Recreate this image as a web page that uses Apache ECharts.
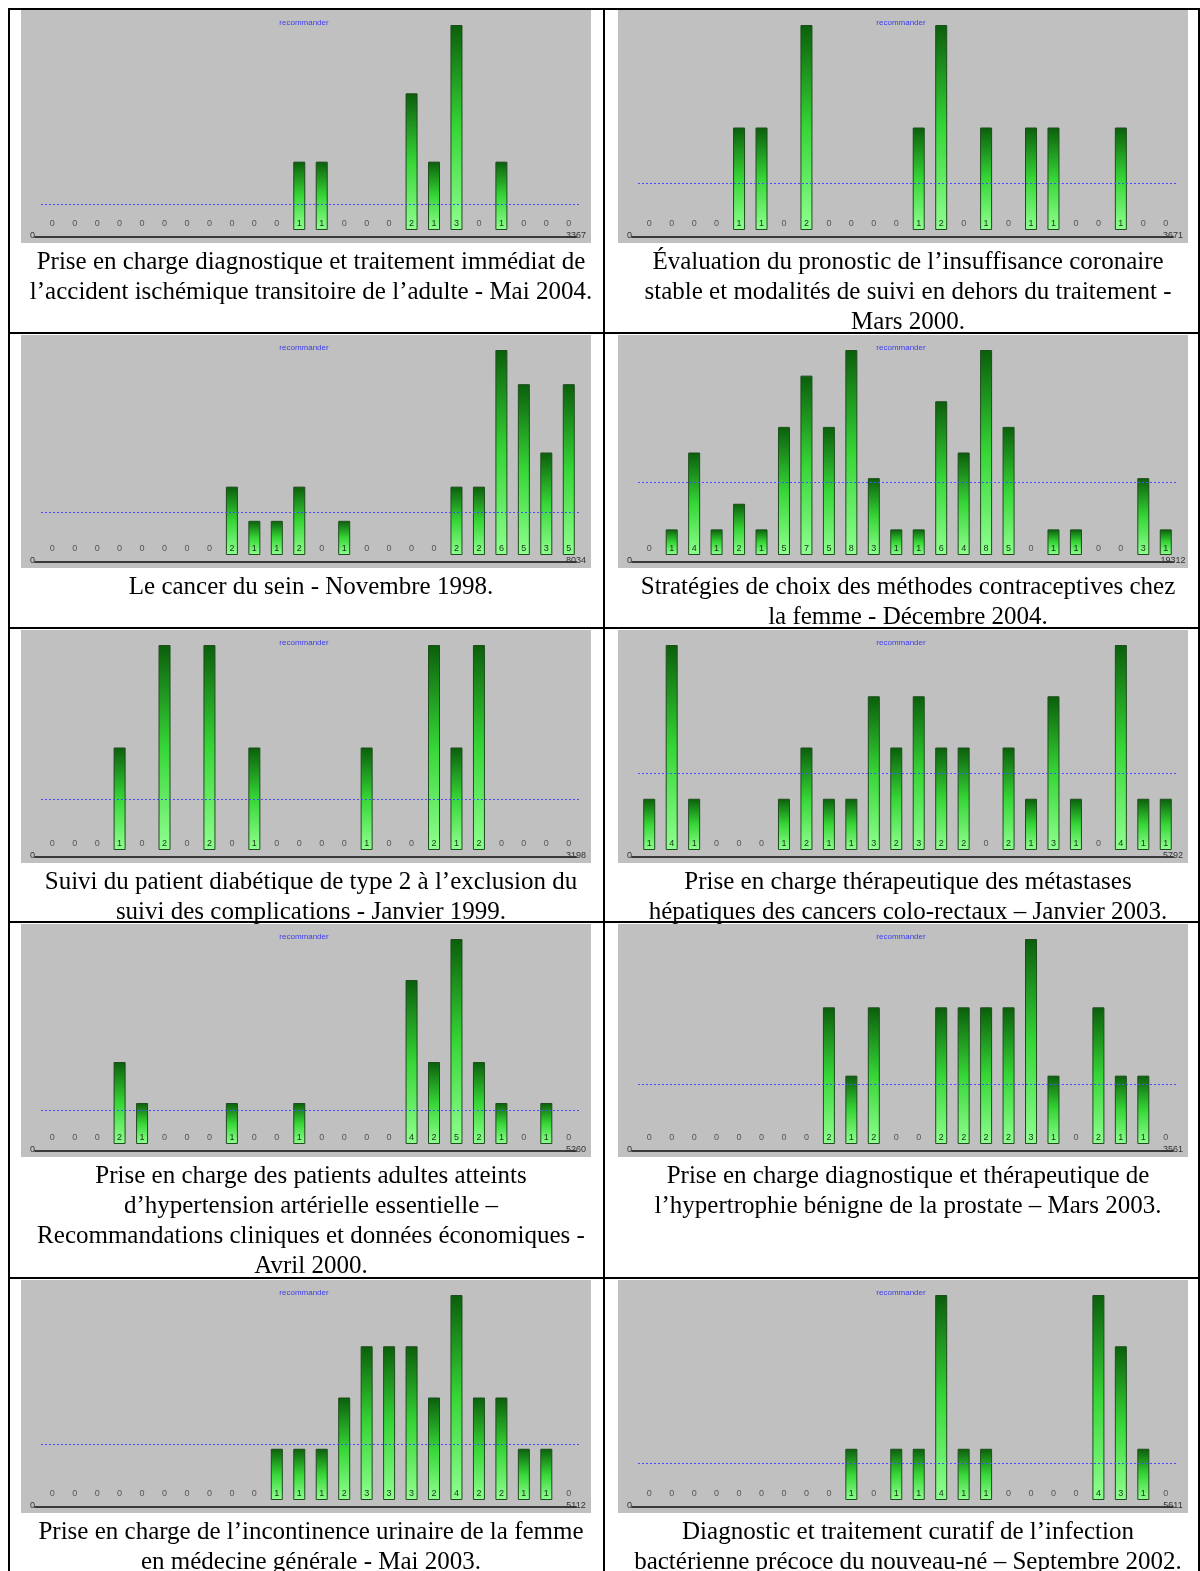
<!DOCTYPE html>
<html><head><meta charset="utf-8">
<script src="https://cdn.jsdelivr.net/npm/echarts@6/dist/echarts.min.js"></script>
<style>html,body{margin:0;padding:0;background:#fff}#c{width:1200px;height:1571px}</style>
</head><body><div id="c"></div>
<script>
const categories = ['1','2','3','4','5','6','7','8','9','10','11','12','13','14','15','16','17','18','19','20','21','22','23','24'];
const valuesAIT = [0,0,0,0,0,0,0,0,0,0,0,1,1,0,0,0,2,1,3,0,1,0,0,0];
const valuesCoronaire = [0,0,0,0,1,1,0,2,0,0,0,0,1,2,0,1,0,1,1,0,0,1,0,0];
const valuesSein = [0,0,0,0,0,0,0,0,2,1,1,2,0,1,0,0,0,0,2,2,6,5,3,5];
const valuesContraception = [0,1,4,1,2,1,5,7,5,8,3,1,1,6,4,8,5,0,1,1,0,0,3,1];
const valuesDiabete = [0,0,0,1,0,2,0,2,0,1,0,0,0,0,1,0,0,2,1,2,0,0,0,0];
const valuesMetastases = [1,4,1,0,0,0,1,2,1,1,3,2,3,2,2,0,2,1,3,1,0,4,1,1];
const valuesHTA = [0,0,0,2,1,0,0,0,1,0,0,1,0,0,0,0,4,2,5,2,1,0,1,0];
const valuesProstate = [0,0,0,0,0,0,0,0,2,1,2,0,0,2,2,2,2,3,1,0,2,1,1,0];
const valuesIncontinence = [0,0,0,0,0,0,0,0,0,0,1,1,1,2,3,3,3,2,4,2,2,1,1,0];
const valuesNouveauNe = [0,0,0,0,0,0,0,0,0,1,0,1,1,4,1,1,0,0,0,0,4,3,1,0];
const endLabels = [3367, 3671, 8034, 19312, 3198, 5792, 5260, 3561, 5112, 5611];
const panelTitle = 'recommander';
const captions = [
  ['Prise en charge diagnostique et traitement immédiat de','l’accident ischémique transitoire de l’adulte - Mai 2004.'],
  ['Évaluation du pronostic de l’insuffisance coronaire','stable et modalités de suivi en dehors du traitement -','Mars 2000.'],
  ['Le cancer du sein - Novembre 1998.'],
  ['Stratégies de choix des méthodes contraceptives chez','la femme - Décembre 2004.'],
  ['Suivi du patient diabétique de type 2 à l’exclusion du','suivi des complications - Janvier 1999.'],
  ['Prise en charge thérapeutique des métastases','hépatiques des cancers colo-rectaux – Janvier 2003.'],
  ['Prise en charge des patients adultes atteints','d’hypertension artérielle essentielle –','Recommandations cliniques et données économiques -','Avril 2000.'],
  ['Prise en charge diagnostique et thérapeutique de','l’hypertrophie bénigne de la prostate – Mars 2003.'],
  ['Prise en charge de l’incontinence urinaire de la femme','en médecine générale - Mai 2003.'],
  ['Diagnostic et traitement curatif de l’infection','bactérienne précoce du nouveau-né – Septembre 2002.']
];
const panelValues = [valuesAIT, valuesCoronaire, valuesSein, valuesContraception, valuesDiabete, valuesMetastases, valuesHTA, valuesProstate, valuesIncontinence, valuesNouveauNe];

const colX = [21, 618];
const rowY = [10, 335, 630, 924, 1280];
const PW = 570, PH = 233;

const grid = [], xAxis = [], yAxis = [], series = [], title = [], graphic = [];
panelValues.forEach((vals, i) => {
  const x0 = colX[i % 2], y0 = rowY[Math.floor(i / 2)];
  graphic.push({type:'rect', z:0, shape:{x:x0, y:y0, width:PW, height:PH}, style:{fill:'#c0c0c0'}});
  grid.push({left:x0+20, top:y0+15, width:539, height:205});
  grid.push({left:x0+14, top:y0+225, width:541, height:2});
  const g = i*2;
  xAxis.push({gridIndex:g, type:'category', data:categories, show:false});
  yAxis.push({gridIndex:g, type:'value', min:0, max:'dataMax', show:false});
  xAxis.push({gridIndex:g+1, type:'value', min:0, max:endLabels[i], interval:endLabels[i], position:'bottom',
    axisLine:{show:true, onZero:false, lineStyle:{color:'#3a3a3a', width:2}},
    axisTick:{show:false}, splitLine:{show:false},
    axisLabel:{show:true, fontSize:9, color:'#333', margin:-6, fontFamily:'Liberation Sans',
      formatter: v => String(v), alignMinLabel:'right', alignMaxLabel:'center'}});
  yAxis.push({gridIndex:g+1, type:'value', show:false});
  series.push({
    type:'bar', xAxisIndex:g, yAxisIndex:g, barWidth:12, z:3,
    data: vals.map(v => v ? {value:v, label:{color:'#143814'}} : {value:v, label:{color:'#555'}, itemStyle:{borderWidth:0, borderColor:'rgba(0,0,0,0)', color:'rgba(0,0,0,0)'}}),
    itemStyle:{
      color:{type:'linear', x:0, y:0, x2:0, y2:1, colorStops:[
        {offset:0, color:'#0b5e0b'}, {offset:0.5, color:'#36d636'}, {offset:1, color:'#90ff90'}]},
      borderColor:'#1d4d1d', borderWidth:1
    },
    label:{show:true, position:'insideBottom', distance:2, fontSize:9, fontFamily:'Liberation Sans'},
    markLine:{silent:true, symbol:['none','none'], label:{show:false},
      lineStyle:{color:'#4b4bff', type:[2,2], width:1}, data:[{type:'average'}]}
  });
  title.push({text:panelTitle, left:x0+278, top:y0+4, textAlign:'center',
    textStyle:{fontSize:8, fontWeight:'normal', color:'#3c3cf0', fontFamily:'Liberation Sans'}});
  title.push({text:captions[i].join('\n'), left:x0+285, top:y0+PH-1, textAlign:'center',
    textStyle:{fontSize:25, fontWeight:'normal', color:'#000', fontFamily:'Liberation Serif', lineHeight:30}});
});
// table borders
[9, 333, 628, 922, 1278].forEach(y => graphic.push({type:'line', z:10, shape:{x1:8, y1:y, x2:1200, y2:y}, style:{stroke:'#000', lineWidth:2}}));
[9, 604, 1199].forEach(x => graphic.push({type:'line', z:10, shape:{x1:x, y1:8, x2:x, y2:1571}, style:{stroke:'#000', lineWidth:2}}));

const chart = echarts.init(document.getElementById('c'), null, {renderer:'canvas'});
chart.setOption({animation:false, backgroundColor:'#fff', grid, xAxis, yAxis, series, title, graphic});
</script></body></html>
